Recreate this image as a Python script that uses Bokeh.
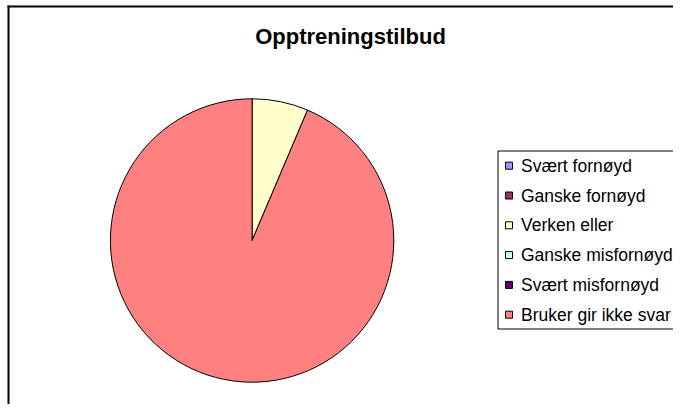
import math
from bokeh.plotting import figure
from bokeh.models import Range1d
from bokeh.core.properties import value
from bokeh.embed import file_html
from bokeh.resources import INLINE

# ---- data ----
title = "Opptreningstilbud"
categories = ["Svært fornøyd", "Ganske fornøyd", "Verken eller",
              "Ganske misfornøyd", "Svært misfornøyd", "Bruker gir ikke svar"]
values = [0, 0, 6.4, 0, 0, 93.6]
colors = ["#9999FF", "#993366", "#FFFFCC", "#CCFFFF", "#660066", "#FF8080"]

# ---- canvas (data units == px, y negative downward) ----
W, H = 673, 404
p = figure(width=W, height=H, output_backend="svg", toolbar_location=None,
           x_range=Range1d(0, W), y_range=Range1d(-H, 0),
           x_axis_type=None, y_axis_type=None, min_border=0)
p.outline_line_color = None
p.background_fill_color = "white"
p.border_fill_color = "white"

# chart frame (top and left edges visible)
p.segment(x0=[7, 8], y0=[-6, -5], x1=[720, 8], y1=[-6, -430],
          line_color="black", line_width=2)

# ---- pie ----
cx, cy, r = 251.6, -240.0, 141.7
total = sum(values)
starts, ends, fcols = [], [], []
cum = 0.0
for v, c in zip(values, colors):
    if v > 0:
        starts.append(math.pi / 2 - 2 * math.pi * cum / total)
        ends.append(math.pi / 2 - 2 * math.pi * (cum + v) / total)
        fcols.append(c)
    cum += v
p.wedge(x=cx, y=cy, radius=r, start_angle=starts, end_angle=ends,
        direction="clock", fill_color=fcols, line_color="black", line_width=1)

# ---- title ----
p.text(x=[350], y=[-36.0], text=[title], text_align="center",
       text_baseline="middle", text_font=value("Liberation Sans"),
       text_font_style="bold", text_font_size="22px", text_color="black")

# ---- legend ----
p.quad(left=[497.5], right=[720], top=[-150.5], bottom=[-328.5],
       fill_color="white", line_color="black", line_width=1)
row0, step = 165.2, 29.8
ys = [row0 + i * step for i in range(len(categories))]
p.rect(x=[508.5] * len(categories), y=[-y for y in ys], width=7, height=7,
       fill_color=colors, line_color="black", line_width=1)
p.text(x=[520.5] * len(categories), y=[-y for y in ys], text=categories,
       text_align="left", text_baseline="middle",
       text_font=value("Liberation Sans"), text_font_size="17.5px",
       text_color="black")

open("out.html", "w").write(file_html(p, INLINE, title=title))
